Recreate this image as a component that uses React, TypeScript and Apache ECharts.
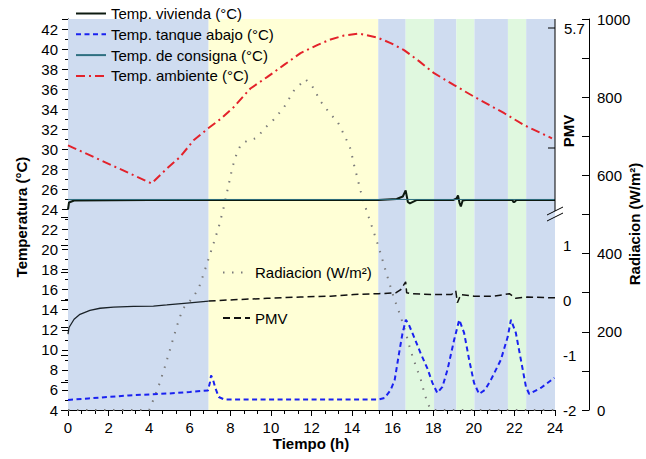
import React, { useEffect, useRef } from "react";
import * as echarts from "echarts";

// ---------- DATA ----------
const vivHours = [0, 0.05, 0.3, 4, 8, 12, 15.3, 16.2, 16.5, 16.64, 16.75, 16.85, 17.2, 19.0, 19.15, 19.22, 19.3, 19.36, 19.45, 19.6, 21.9, 21.95, 22.0, 22.1, 24];
const vivTemp = [24.0, 24.7, 24.9, 24.95, 24.95, 24.95, 24.95, 25.05, 25.3, 25.9, 24.75, 24.6, 24.95, 24.95, 25.1, 25.4, 24.6, 24.3, 24.9, 24.95, 24.95, 24.75, 24.75, 24.95, 24.95];

const consHours = [0, 24];
const consTemp = [25, 25];

const tankHours = [0, 1, 2, 3, 4, 5, 6, 6.9, 7.0, 7.05, 7.15, 7.26, 7.43, 7.7, 10, 15.3, 15.6, 15.9, 16.1, 16.31, 16.48, 16.65, 16.8, 17.05, 17.38, 17.71, 17.96, 18.2, 18.45, 18.7, 19.03, 19.28, 19.52, 19.77, 20.01, 20.26, 20.55, 20.84, 21.33, 21.67, 21.83, 22.07, 22.32, 22.57, 22.73, 23.3, 23.97];
const tankTemp = [5.0, 5.15, 5.3, 5.45, 5.55, 5.65, 5.8, 5.95, 6.8, 7.45, 7.0, 6.2, 5.3, 5.05, 5.05, 5.05, 5.2, 6.0, 7.0, 9.6, 11.6, 13.0, 12.5, 11.3, 9.65, 8.15, 6.7, 5.7, 6.3, 8.0, 11.0, 13.0, 11.7, 9.0, 6.7, 5.6, 6.0, 7.0, 9.0, 11.3, 13.0, 11.7, 9.0, 6.3, 5.6, 6.2, 7.2];

const ambHours = [0, 4.12, 4.88, 5.53, 6.19, 6.91, 7.5, 8.16, 8.99, 9.81, 10.63, 11.46, 12.28, 12.94, 13.6, 14.34, 15.24, 15.9, 16.56, 17.3, 18.04, 19.03, 20.02, 21.5, 22.49, 23.85];
const ambTemp = [30.4, 26.6, 28.1, 29.25, 30.9, 32.1, 33.0, 34.2, 36.07, 37.2, 38.4, 39.6, 40.4, 40.96, 41.35, 41.55, 41.15, 40.6, 39.9, 38.8, 37.6, 36.4, 35.24, 33.6, 32.4, 31.1];

const radHours = [0, 1, 2, 3, 4, 4.13, 4.5, 4.82, 5.09, 5.37, 5.53, 5.73, 6.03, 6.27, 6.48, 6.81, 7.13, 7.43, 7.67, 7.92, 8.12, 8.33, 8.53, 8.82, 9.32, 9.64, 10.14, 10.63, 11.12, 11.7, 12.03, 12.44, 12.94, 13.27, 13.68, 13.93, 14.09, 14.26, 14.42, 14.67, 14.91, 15.0, 15.32, 15.73, 16.06, 16.39, 16.69, 16.89, 17.14, 17.38, 17.58, 17.74, 17.9, 19, 20, 21, 22, 23, 24];
const radValues = [0, 0, 0, 0, 0, 16, 66, 118, 166, 215, 240, 263, 280, 297, 317, 368, 419, 468, 517, 577, 624, 658, 680, 688, 696, 718, 743, 773, 816, 846, 829, 790, 756, 739, 696, 667, 628, 594, 560, 517, 479, 466, 415, 343, 287, 240, 189, 151, 113, 79, 40, 15, 0, 0, 0, 0, 0, 0, 0];

const pmvHours = [0, 0.05, 0.3, 0.59, 1.08, 1.58, 2.24, 3.23, 4.21, 4.87, 5.86, 6.93, 8.16, 9.81, 11.46, 12.94, 14.09, 15.32, 16.15, 16.4, 16.64, 16.69, 16.89, 18.04, 18.9, 19.11, 19.19, 19.36, 20.01, 21.0, 21.75, 22.07, 22.64, 23.8, 24];
const pmvValues = [-0.62, -0.5, -0.35, -0.26, -0.19, -0.15, -0.13, -0.115, -0.11, -0.09, -0.055, -0.02, 0.005, 0.03, 0.055, 0.07, 0.1, 0.115, 0.13, 0.19, 0.33, 0.13, 0.115, 0.1, 0.1, 0.165, -0.05, 0.1, 0.07, 0.07, 0.115, 0.03, 0.055, 0.04, 0.04];
const pmvSolidUntil = 6.93; // the early part is drawn as a continuous line

const bandStart = [0, 6.93, 15.29, 16.64, 18.04, 19.14, 20.03, 21.68, 22.58];
const bandEnd = [6.93, 15.29, 16.64, 18.04, 19.14, 20.03, 21.68, 22.58, 24];
const bandKind = ["night", "day", "night", "aux", "night", "aux", "night", "aux", "night"];

const pmvUpperLabel = "5.7";

const names = {
  viv: "Temp. vivienda (°C)",
  tank: "Temp. tanque abajo (°C)",
  cons: "Temp. de consigna (°C)",
  amb: "Temp. ambiente (°C)",
  rad: "Radiacion (W/m²)",
  pmv: "PMV",
};

// ---------- STYLE ----------
const FONT = "'Liberation Sans', Arial, sans-serif";
const FS = 15;
const bandColor: Record<string, string> = { night: "#cfdcf0", day: "#ffffd6", aux: "#e0f8df" };

const GL = 68, GR = 91, GT = 19, GB = 49;
const W = 646, H = 459;
const axisX = W - GR; // 555
const pmvTopPx = 217.5;

const pairs = (xs: number[], ys: number[]) => xs.map((x, i) => [x, ys[i]]);

export default function App() {
  const ref = useRef<HTMLDivElement>(null);
  useEffect(() => {
    if (!ref.current) return;
    const chart = echarts.init(ref.current, undefined, { renderer: "svg" });
    const black = "#000";
    const pmvAll = pairs(pmvHours, pmvValues);
    const pmvEarly = pmvAll.filter((p) => p[0] <= pmvSolidUntil);
    const pmvLate = pmvAll.filter((p) => p[0] >= pmvSolidUntil);
    const legendCommon = {
      orient: "vertical",
      itemHeight: 14,
      padding: 0,
      itemStyle: { opacity: 0 },
      textStyle: { fontSize: FS, color: black, fontFamily: FONT },
    };
    const option: any = {
      animation: false,
      textStyle: { fontFamily: FONT },
      grid: [
        { left: GL, right: GR, top: GT, bottom: GB },
        { left: GL, right: GR, top: pmvTopPx, bottom: GB },
      ],
      legend: [
        {
          ...legendCommon,
          data: [names.viv, names.tank, names.cons, names.amb],
          left: 75,
          top: 6,
          itemWidth: 30,
          itemGap: 5.8,
        },
        {
          ...legendCommon,
          data: [names.rad, names.pmv],
          left: 222,
          top: 265,
          itemWidth: 27,
          itemGap: 30.5,
        },
      ],
      xAxis: [
        {
          type: "value",
          gridIndex: 0,
          min: 0,
          max: 24,
          interval: 2,
          axisLine: { show: true, lineStyle: { color: black, width: 1 } },
          axisTick: { show: true, length: 6, lineStyle: { color: black } },
          minorTick: { show: true, splitNumber: 3, length: 4, lineStyle: { color: black } },
          splitLine: { show: false },
          axisLabel: { color: black, fontSize: FS, margin: 10, fontFamily: FONT },
        },
        { type: "value", gridIndex: 1, min: 0, max: 24, show: false },
      ],
      yAxis: [
        {
          type: "value",
          gridIndex: 0,
          min: 4,
          max: 43,
          interval: 2,
          axisLine: { show: true, lineStyle: { color: black } },
          axisTick: { show: true, length: 6, lineStyle: { color: black } },
          minorTick: { show: true, splitNumber: 2, length: 3, lineStyle: { color: black } },
          splitLine: { show: false },
          axisLabel: { color: black, fontSize: FS, margin: 10, showMaxLabel: false, fontFamily: FONT },
        },
        {
          type: "value",
          gridIndex: 0,
          position: "right",
          offset: 34,
          min: 0,
          max: 1000,
          interval: 100,
          axisLine: { show: true, lineStyle: { color: black } },
          axisTick: { show: true, inside: true, length: 7, lineStyle: { color: black } },
          splitLine: { show: false },
          axisLabel: {
            color: black,
            fontSize: FS,
            margin: 8,
            fontFamily: FONT,
            formatter: (v: number) => (v % 200 === 0 ? String(v) : ""),
          },
        },
        {
          type: "value",
          gridIndex: 1,
          position: "right",
          min: -2,
          max: 1.5,
          interval: 0.5,
          axisLine: { show: true, lineStyle: { color: black } },
          axisTick: { show: true, inside: true, length: 7, lineStyle: { color: black } },
          splitLine: { show: false },
          axisLabel: {
            color: black,
            fontSize: FS,
            margin: 8,
            fontFamily: FONT,
            formatter: (v: number) => (Number.isInteger(v) ? String(v) : ""),
          },
        },
      ],
      series: [
        {
          name: "bands",
          type: "line",
          xAxisIndex: 0,
          yAxisIndex: 0,
          data: [],
          z: 0,
          silent: true,
          markArea: {
            silent: true,
            data: bandStart.map((s, i) => [
              { xAxis: s, itemStyle: { color: bandColor[bandKind[i]] } },
              { xAxis: bandEnd[i] },
            ]),
          },
        },
        {
          name: names.rad,
          type: "line",
          xAxisIndex: 0,
          yAxisIndex: 1,
          data: pairs(radHours, radValues),
          symbol: "none",
          z: 3,
          lineStyle: { color: "#7a7a7a", width: 2, type: [1.5, 7.5] },
          itemStyle: { color: "#7a7a7a" },
        },
        {
          name: names.pmv,
          type: "line",
          xAxisIndex: 1,
          yAxisIndex: 2,
          data: pmvLate,
          symbol: "none",
          z: 3,
          lineStyle: { color: "#111", width: 1.5, type: [7, 4] },
          itemStyle: { color: "#111" },
        },
        {
          name: names.pmv,
          type: "line",
          xAxisIndex: 1,
          yAxisIndex: 2,
          data: pmvEarly,
          symbol: "none",
          z: 3,
          lineStyle: { color: "#1a2228", width: 1.3 },
          itemStyle: { color: "#111" },
        },
        {
          name: names.tank,
          type: "line",
          xAxisIndex: 0,
          yAxisIndex: 0,
          data: pairs(tankHours, tankTemp),
          symbol: "none",
          z: 4,
          lineStyle: { color: "#1a22f0", width: 2, type: [5, 3.5] },
          itemStyle: { color: "#1a22f0" },
        },
        {
          name: names.amb,
          type: "line",
          xAxisIndex: 0,
          yAxisIndex: 0,
          data: pairs(ambHours, ambTemp),
          symbol: "none",
          z: 4,
          lineStyle: { color: "#e3222b", width: 2, type: [9, 4, 2, 4] },
          itemStyle: { color: "#e3222b" },
        },
        {
          name: names.viv,
          type: "line",
          xAxisIndex: 0,
          yAxisIndex: 0,
          data: pairs(vivHours, vivTemp),
          symbol: "none",
          z: 5,
          lineStyle: { color: "#0d1a10", width: 2 },
          itemStyle: { color: "#0d1a10" },
        },
        {
          name: names.cons,
          type: "line",
          xAxisIndex: 0,
          yAxisIndex: 0,
          data: pairs(consHours, consTemp),
          symbol: "none",
          z: 6,
          lineStyle: { color: "#2e6f80", width: 1 },
          itemStyle: { color: "#2e6f80" },
        },
      ],
      graphic: [
        { type: "line", shape: { x1: axisX, y1: GT, x2: axisX, y2: 211 }, style: { stroke: black, lineWidth: 1 }, z: 10 },
        { type: "line", shape: { x1: axisX - 7, y1: 28, x2: axisX, y2: 28 }, style: { stroke: black, lineWidth: 1 }, z: 10 },
        { type: "line", shape: { x1: axisX - 7, y1: 148, x2: axisX, y2: 148 }, style: { stroke: black, lineWidth: 1 }, z: 10 },
        { type: "text", x: axisX + 9, y: 28, style: { text: pmvUpperLabel, font: `${FS}px ${FONT}`, fill: black, align: "left", verticalAlign: "middle" }, z: 10 },
        { type: "line", shape: { x1: axisX - 8, y1: 221, x2: axisX + 8, y2: 213 }, style: { stroke: black, lineWidth: 1 }, z: 10 },
        { type: "line", shape: { x1: axisX - 8, y1: 215, x2: axisX + 8, y2: 207 }, style: { stroke: black, lineWidth: 1 }, z: 10 },
        { type: "text", x: 21, y: 217, rotation: Math.PI / 2, style: { text: "Temperatura (°C)", font: `bold ${FS}px ${FONT}`, fill: black, align: "center", verticalAlign: "middle" } },
        { type: "text", x: 311, y: 443, style: { text: "Tiempo (h)", font: `bold ${FS}px ${FONT}`, fill: black, align: "center", verticalAlign: "middle" } },
        { type: "text", x: 568, y: 131, rotation: Math.PI / 2, style: { text: "PMV", font: `bold ${FS}px ${FONT}`, fill: black, align: "center", verticalAlign: "middle" } },
        { type: "text", x: 634, y: 224, rotation: Math.PI / 2, style: { text: "Radiacion (W/m²)", font: `bold ${FS}px ${FONT}`, fill: black, align: "center", verticalAlign: "middle" } },
      ],
    };
    chart.setOption(option);
    return () => chart.dispose();
  }, []);
  return <div ref={ref} style={{ position: "fixed", left: 0, top: 0, width: W, height: H, background: "#fff" }} />;
}
